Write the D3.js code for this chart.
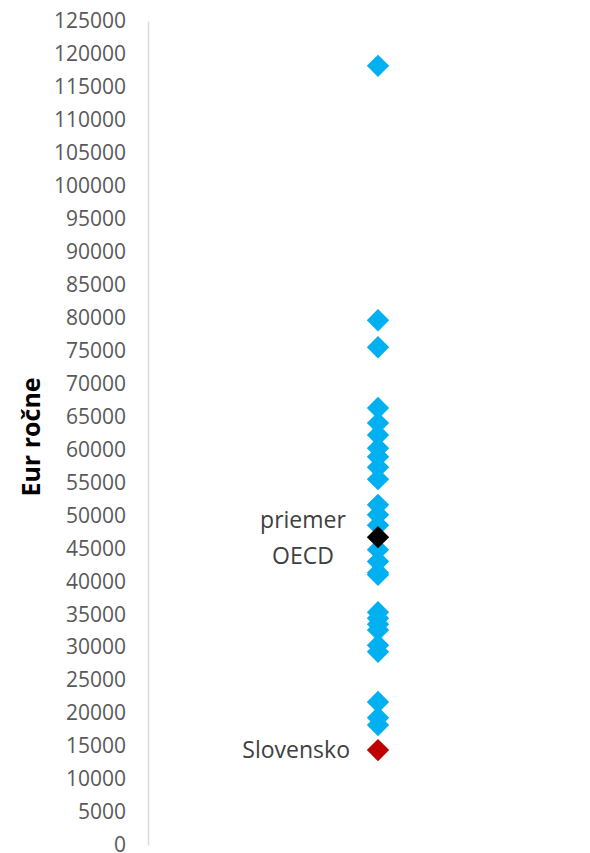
<!DOCTYPE html>
<html>
<head>
<meta charset="utf-8">
<script src="https://cdn.jsdelivr.net/npm/d3@7"></script>
<style>
  body { margin: 0; background: #fff; }
  text { font-family: "Open Sans", sans-serif; }
</style>
</head>
<body>
<svg id="chart" width="590" height="853"></svg>
<script>
// salaries of OECD countries, EUR per year
const countryValues = [
    118200, 79600, 75500, 66300, 64000, 62200, 60200, 58900, 57300, 55500,
    51600, 50100, 48500, 44800, 43000, 41300, 41000, 35300, 34400, 33500,
    32600, 30300, 29300, 21700, 19300, 18200,
];
const oecdAverage = 46700;
const slovakia = 14400;
const yTicks = d3.range(0, 125001, 5000);
const category = ['x'];

const width = 590;
const height = 853;
const margin = { top: 21, right: 0, bottom: 8, left: 148 };

const svg = d3.select('#chart');

const xScale = d3.scalePoint()
    .domain(category)
    .range([margin.left, 608])
    .padding(0.5);

const yScale = d3.scaleLinear()
    .domain([0, 125000])
    .range([height - margin.bottom, margin.top]);

// y axis
const yAxis = d3.axisLeft(yScale)
    .tickValues(yTicks)
    .tickFormat(d3.format('d'))
    .tickSize(0)
    .tickPadding(22);

const gy = svg.append('g')
    .attr('transform', `translate(${margin.left},0)`)
    .call(yAxis);

gy.select('.domain').attr('stroke', '#d9d9d9').attr('stroke-width', 1.5);
gy.selectAll('text')
    .attr('fill', '#595959')
    .style('font-size', '21px')
    .style('font-family', '"Open Sans", sans-serif');

// axis title
svg.append('text')
    .attr('transform', 'translate(40,437) rotate(-90)')
    .attr('text-anchor', 'middle')
    .style('font-size', '25px')
    .style('font-weight', 'bold')
    .attr('fill', '#000')
    .text('Eur ročne');

const diamond = d3.symbol().type(d3.symbolSquare).size(250);

const drawPoints = (values, color) => {
    svg.append('g')
        .selectAll('path')
        .data(values)
        .enter()
        .append('path')
        .attr('d', diamond)
        .attr('transform', (d) => `translate(${xScale('x')},${yScale(d)}) rotate(45)`)
        .attr('fill', color);
};

drawPoints(countryValues, '#00b0f0');
drawPoints([oecdAverage], '#000000');
drawPoints([slovakia], '#c00000');

// point labels
const avgLabel = svg.append('text')
    .attr('text-anchor', 'middle')
    .attr('fill', '#404040')
    .style('font-size', '23px');
avgLabel.append('tspan').attr('x', 303).attr('y', yScale(oecdAverage) - 9).text('priemer');
avgLabel.append('tspan').attr('x', 303).attr('y', yScale(oecdAverage) + 27).text('OECD');

svg.append('text')
    .attr('x', 350)
    .attr('y', yScale(slovakia) + 8)
    .attr('text-anchor', 'end')
    .attr('fill', '#404040')
    .style('font-size', '23px')
    .text('Slovensko');
</script>
</body>
</html>
